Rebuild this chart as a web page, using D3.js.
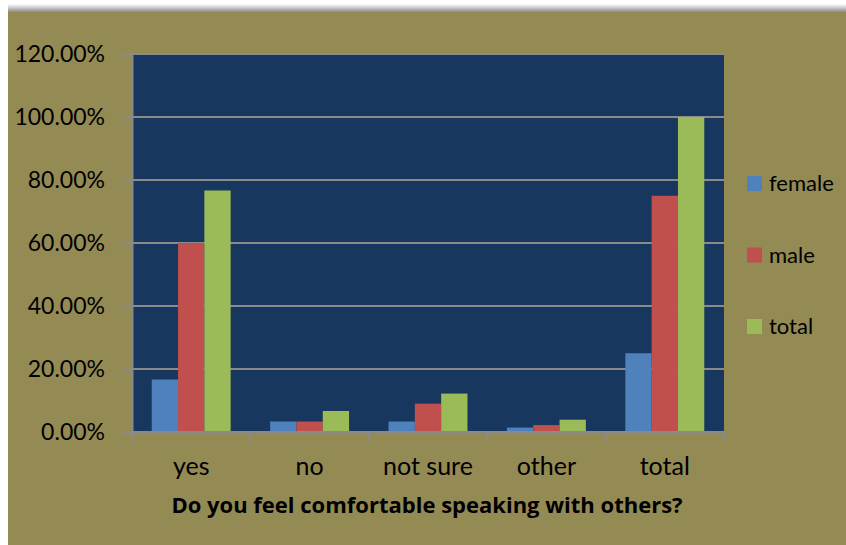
<!DOCTYPE html>
<html>
<head>
<meta charset="utf-8">
<script src="https://cdn.jsdelivr.net/npm/d3@7"></script>
<style>
  html, body { margin: 0; padding: 0; background: #ffffff; }
  svg { display: block; font-family: Lato, "Open Sans", sans-serif; }
</style>
</head>
<body>
<svg id="chart" width="846" height="545"></svg>
<script>
// Survey responses, share of respondents (%)
const categories = ["yes", "no", "not sure", "other", "total"];
const seriesNames = ["female", "male", "total"];
const female = [16.67, 3.33, 3.33, 1.4, 25];
const male = [60, 3.33, 9.0, 2.2, 75];
const total = [76.67, 6.67, 12.2, 3.9, 100];
const yTicks = [0, 20, 40, 60, 80, 100, 120];
const axisTitle = "Do you feel comfortable speaking with others?";

const seriesValues = [female, male, total];
const colors = ["#4F81BD", "#C0504D", "#9BBB59"];

const svg = d3.select("#chart");

// backdrop panel with soft shadow on the top edge
const defs = svg.append("defs");
const sh = defs.append("linearGradient").attr("id", "topShade")
  .attr("x1", 0).attr("y1", 0).attr("x2", 0).attr("y2", 1);
sh.append("stop").attr("offset", "0%").attr("stop-color", "#ffffff");
sh.append("stop").attr("offset", "100%").attr("stop-color", "#8c8c8c");
svg.append("rect").attr("x", 8).attr("y", 4).attr("width", 838).attr("height", 8)
  .attr("fill", "url(#topShade)");
svg.append("rect").attr("x", 8).attr("y", 12).attr("width", 838).attr("height", 533)
  .attr("fill", "#948A54");

const plot = { left: 132, top: 54, right: 724, bottom: 432 };

const x = d3.scaleBand().domain(categories).range([plot.left, plot.right]);
const y = d3.scaleLinear().domain([0, 120]).range([plot.bottom, plot.top]);

// plot area background
svg.append("rect")
  .attr("x", plot.left).attr("y", plot.top)
  .attr("width", plot.right - plot.left).attr("height", plot.bottom - plot.top)
  .attr("fill", "#17375E");

// horizontal gridlines
svg.append("g").selectAll("line").data(yTicks.filter(d => d > 0)).join("line")
  .attr("x1", plot.left).attr("x2", plot.right)
  .attr("y1", d => y(d)).attr("y2", d => y(d))
  .attr("stroke", "#8a8a8a").attr("stroke-width", 2);

// bars: 3 per category, gap of 1.5 bar widths between groups
const barW = x.bandwidth() / 4.5;
const groups = svg.append("g").selectAll("g").data(categories).join("g");
groups.selectAll("rect")
  .data((c, i) => seriesValues.map((vals, s) => ({ s, v: vals[i], c })))
  .join("rect")
  .attr("x", d => x(d.c) + barW * 0.75 + d.s * barW)
  .attr("y", d => y(d.v))
  .attr("width", barW)
  .attr("height", d => plot.bottom - y(d.v))
  .attr("fill", d => colors[d.s]);

// y axis
const yAxis = d3.axisLeft(y).tickValues(yTicks).tickSize(9).tickPadding(18)
  .tickFormat(d => d3.format(".2f")(d) + "%");
const gy = svg.append("g").attr("transform", `translate(${plot.left},0)`).call(yAxis);
gy.select(".domain").attr("stroke", "#8a8a8a").attr("stroke-width", 2);
gy.selectAll(".tick line").attr("stroke", "#8a8a8a").attr("stroke-width", 2);
gy.selectAll(".tick text").attr("fill", "#000").style("font-size", "23px")
  .style("font-family", "Lato, sans-serif");

// x axis: ticks on the category boundaries
svg.append("line").attr("x1", plot.left - 1).attr("x2", plot.right)
  .attr("y1", plot.bottom).attr("y2", plot.bottom)
  .attr("stroke", "#8a8a8a").attr("stroke-width", 2);
const bounds = categories.map(c => x(c)).concat([plot.right]);
svg.append("g").selectAll("line").data(bounds).join("line")
  .attr("x1", d => d).attr("x2", d => d)
  .attr("y1", plot.bottom).attr("y2", plot.bottom + 9)
  .attr("stroke", "#8a8a8a").attr("stroke-width", 2);
svg.append("g").selectAll("text").data(categories).join("text")
  .attr("x", d => x(d) + x.bandwidth() / 2)
  .attr("y", 475)
  .attr("text-anchor", "middle")
  .style("font-size", "25px")
  .attr("fill", "#000")
  .text(d => d);

// axis title
svg.append("text").attr("x", 427).attr("y", 513).attr("text-anchor", "middle")
  .style("font-family", "'Open Sans', sans-serif")
  .style("font-size", "22px").style("font-weight", "bold").attr("fill", "#000")
  .text(axisTitle);

// legend
const legend = svg.append("g").selectAll("g").data(seriesNames).join("g")
  .attr("transform", (d, i) => `translate(747, ${176 + i * 71.5})`);
legend.append("rect").attr("width", 15).attr("height", 15).attr("fill", (d, i) => colors[i]);
legend.append("text").attr("x", 22).attr("y", 15).style("font-size", "22px")
  .attr("fill", "#000").text(d => d);
</script>
</body>
</html>
